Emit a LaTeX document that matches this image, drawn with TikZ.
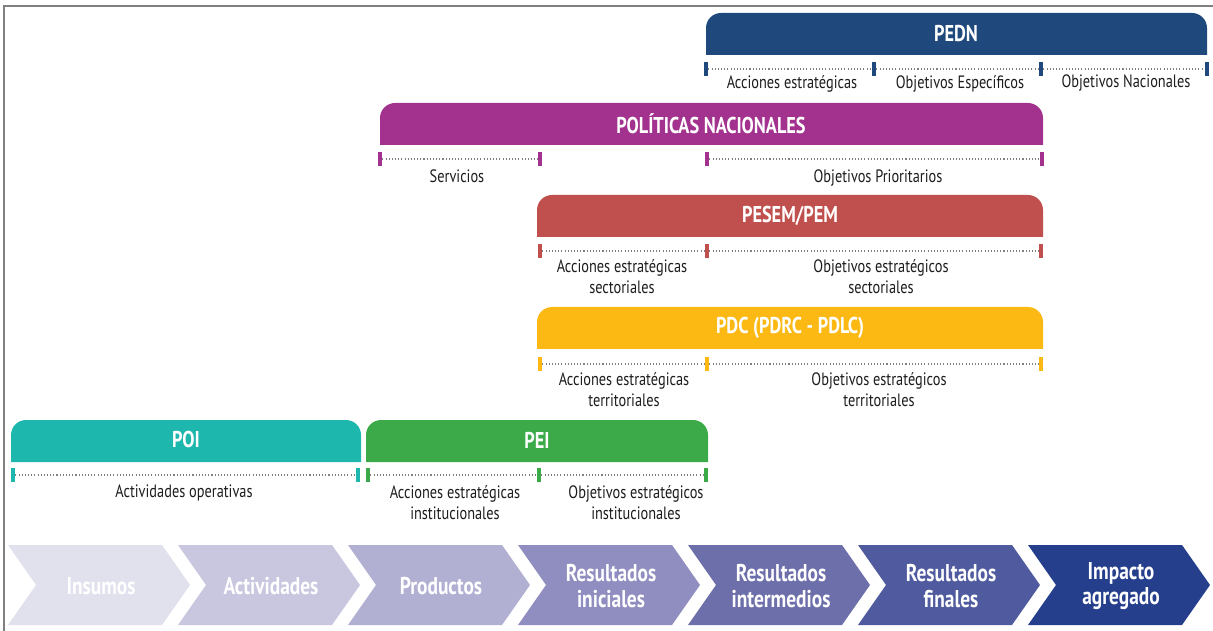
\documentclass[tikz,border=0pt]{standalone}
\usepackage{fontspec}
\setmainfont{PT Sans}[FakeStretch=0.8]
\usepackage{tikz}

\definecolor{pedncol}{RGB}{31,73,125}
\definecolor{polcol}{RGB}{162,50,142}
\definecolor{pesemcol}{RGB}{192,80,77}
\definecolor{pdccol}{RGB}{252,185,19}
\definecolor{poicol}{RGB}{29,183,174}
\definecolor{peicol}{RGB}{61,170,73}
\definecolor{chevA}{RGB}{225,225,238}
\definecolor{chevB}{RGB}{200,199,223}
\definecolor{chevC}{RGB}{177,175,210}
\definecolor{chevD}{RGB}{144,142,192}
\definecolor{chevE}{RGB}{109,111,170}
\definecolor{chevF}{RGB}{79,91,158}
\definecolor{chevG}{RGB}{38,63,141}
\definecolor{textgray}{RGB}{30,28,28}

\begin{document}
\begin{tikzpicture}
[x=0.02cm,y=-0.02cm]
\tikzset{bartitle/.style={text=white,font=\bfseries\fontsize{13}{15}\selectfont}}
\tikzset{tick/.style={fill=#1,inner sep=0pt,minimum width=2.3pt,minimum height=8pt}}
\tikzset{lbl/.style={below,align=center,text=textgray,inner sep=1pt,font=\fontsize{10.2}{12.5}\selectfont}}
\tikzset{chev/.style={text=white,align=center,font=\bfseries\fontsize{13.8}{14.5}\selectfont}}
\tikzset{dots/.style={gray,line width=0.6pt,dash pattern=on 0.6pt off 1.2pt}}
\useasboundingbox (0,0) rectangle (1213,631);

% frame
\draw [gray,line width=1.2pt] (4,631) -- (4,6) -- (1213,6);

% bars
\foreach \xa/\xb/\yt/\col in {706/1207/13/pedncol,380/1043/103/polcol,537/1043/195/pesemcol,537/1043/307/pdccol,11/361/420/poicol,366/708/420/peicol}
	\fill [\col] (\xa,\yt+42) -- (\xa,\yt+15) arc [start angle=180,end angle=270,radius=15]
		-- (\xb-15,\yt) arc [start angle=270,end angle=360,radius=15] -- (\xb,\yt+42) -- cycle;

\node [bartitle] (pedn) at (956,34) {PEDN};
\node [bartitle] (pol) at (711,124) {POLÍTICAS NACIONALES};
\node [bartitle] (pesem) at (790,216) {PESEM/PEM};
\node [bartitle] (pdc) at (790,328) {PDC (PDRC - PDLC)};
\node [bartitle] (poi) at (186,440) {POI};
\node [bartitle] (pei) at (537,440) {PEI};

% ticks
\foreach \x [count=\i] in {706,874,1041,1207}
	\node [tick=pedncol] (pedn\i) at (\x,69) {};
\foreach \x [count=\i] in {380,540,707,1042}
	\node [tick=polcol] (pol\i) at (\x,159) {};
\foreach \x [count=\i] in {540,707,1041}
	\node [tick=pesemcol] (pesem\i) at (\x,251) {};
\foreach \x [count=\i] in {540,707,1041}
	\node [tick=pdccol] (pdc\i) at (\x,364) {};
\foreach \x [count=\i] in {13,358}
	\node [tick=poicol] (poi\i) at (\x,475) {};
\foreach \x [count=\i] in {368,539,706}
	\node [tick=peicol] (pei\i) at (\x,475) {};

\foreach \from/\to in {pedn1/pedn2,pedn2/pedn3,pedn3/pedn4,pol1/pol2,pol3/pol4,pesem1/pesem2,pesem2/pesem3,pdc1/pdc2,pdc2/pdc3,poi1/poi2,pei1/pei2,pei2/pei3}
	\draw [dots] (\from) -- (\to);

% labels
\node [lbl] (l1) at (792,73) {Acciones estratégicas};
\node [lbl] (l2) at (960,73) {Objetivos Específicos};
\node [lbl] (l3) at (1126,73) {Objetivos Nacionales};
\node [lbl] (l4) at (457,168) {Servicios};
\node [lbl] (l5) at (878,168) {Objetivos Prioritarios};
\node [lbl] (l6) at (622,257) {Acciones estratégicas\\sectoriales};
\node [lbl] (l7) at (881,257) {Objetivos estratégicos\\sectoriales};
\node [lbl] (l8) at (624,370) {Acciones estratégicas\\territoriales};
\node [lbl] (l9) at (879,370) {Objetivos estratégicos\\territoriales};
\node [lbl] (l10) at (184,483) {Actividades operativas};
\node [lbl] (l11) at (455,483) {Acciones estratégicas\\institucionales};
\node [lbl] (l12) at (636,483) {Objetivos estratégicos\\institucionales};

% chain
\foreach \i/\col/\txt in {0/chevA/Insumos,1/chevB/Actividades,2/chevC/Productos,3/chevD/{Resultados\\iniciales},4/chevE/{Resultados\\intermedios},5/chevF/{Resultados\\finales},6/chevG/{Impacto\\agregado}}
{
	\pgfmathsetmacro\L{8+170*\i}
	\fill [\col] (\L,545) -- (\L+154,545) -- (\L+182,585) -- (\L+154,625) -- (\L,625) -- (\L+28,585) -- cycle;
	\node [chev] (stage\i) at (\L+93,586) {\txt};
}
\end{tikzpicture}
\end{document}
